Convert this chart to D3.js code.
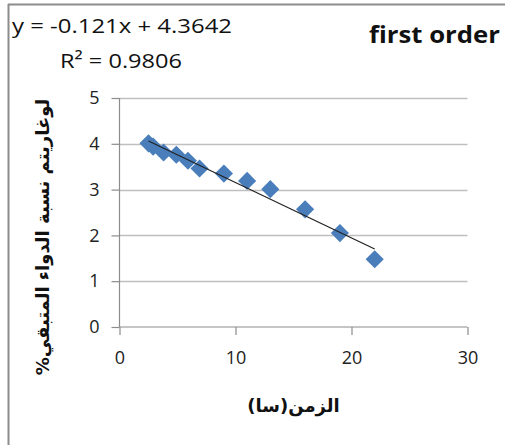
<!DOCTYPE html>
<html><head><meta charset="utf-8">
<script src="https://cdn.jsdelivr.net/npm/d3@7"></script>
<style>body{margin:0;background:#fff}</style>
</head><body>
<svg id="c" width="505" height="445"></svg>
<script>
const xValues = [2.5, 2.9, 3.8, 4.9, 5.9, 6.9, 9, 11, 13, 16, 19, 22];
const yValues = [4.01, 3.94, 3.81, 3.76, 3.63, 3.46, 3.35, 3.19, 3.01, 2.57, 2.05, 1.48];
const xTicks = [0, 10, 20, 30];
const yTicks = [0, 1, 2, 3, 4, 5];
const slope = -0.121, intercept = 4.3642;
const eqText = "y = -0.121x + 4.3642";
const r2Text = "R² = 0.9806";
const titleText = "first order";
const xTitle = "الزمن(سا)";
const yTitle = "لوغاريتم نسبة الدواء المتبقي%";

const svg = d3.select("#c");
const font = "'Open Sans', sans-serif";
svg.append("line").attr("x1",8.5).attr("x2",8.5).attr("y1",4).attr("y2",445).attr("stroke","#8c8c8c").attr("stroke-width",2);
svg.append("line").attr("x1",8).attr("x2",505).attr("y1",4.5).attr("y2",4.5).attr("stroke","#8c8c8c").attr("stroke-width",2);

const x = d3.scaleLinear().domain([0,30]).range([119.5,467.5]);
const y = d3.scaleLinear().domain([0,5]).range([327,98]);

const g = svg.append("g");
g.selectAll(".grid").data(yTicks.filter(d=>d>0)).join("line")
  .attr("x1",x(0)).attr("x2",x(30)).attr("y1",d=>Math.round(y(d))+0.5).attr("y2",d=>Math.round(y(d))+0.5)
  .attr("stroke","#bfbfbf").attr("stroke-width",1.3);

const ya = g.append("g").attr("transform",`translate(${x(0)},0)`)
  .call(d3.axisLeft(y).tickValues(yTicks).tickFormat(d3.format("d")).tickSize(8).tickPadding(12));
const xa = g.append("g").attr("transform",`translate(0,${y(0)})`)
  .call(d3.axisBottom(x).tickValues(xTicks).tickFormat(d3.format("d")).tickSize(8).tickPadding(16));
[ya,xa].forEach(a=>{
  a.selectAll("path,line").attr("stroke","#8c8c8c").attr("stroke-width",1.2);
  a.selectAll("text").attr("font-family",font).attr("font-size",18).attr("fill","#222");
});
ya.select(".domain").attr("d",`M0,${y(5)}V${y(0)}`);
xa.select(".domain").attr("d",`M${x(0)},0H${x(30)}`);

g.selectAll(".pt").data(xValues.map((v,i)=>[v,yValues[i]])).join("path")
  .attr("d",d3.symbol(d3.symbolSquare, 165))
  .attr("transform",d=>`translate(${x(d[0])},${y(d[1])}) rotate(45)`)
  .attr("fill","#4a7ebb");

const xs = d3.extent(xValues);
g.append("line").attr("x1",x(xs[0])).attr("x2",x(xs[1]))
  .attr("y1",y(slope*xs[0]+intercept)).attr("y2",y(slope*xs[1]+intercept))
  .attr("stroke","#222").attr("stroke-width",1.2);

svg.append("text").attr("x",12).attr("y",33).attr("font-family",font).attr("font-size",20).attr("fill","#111")
  .attr("textLength",220).attr("lengthAdjust","spacingAndGlyphs").text(eqText);
svg.append("text").attr("x",60).attr("y",68).attr("font-family",font).attr("font-size",20).attr("fill","#111")
  .attr("textLength",122).attr("lengthAdjust","spacingAndGlyphs").text(r2Text);
svg.append("text").attr("x",369).attr("y",43).attr("font-family",font).attr("font-weight","bold").attr("font-size",23).attr("fill","#111")
  .attr("textLength",131).attr("lengthAdjust","spacingAndGlyphs").text(titleText);

svg.append("text").attr("x",(x(0)+x(30))/2).attr("y",412).attr("text-anchor","middle").attr("direction","rtl")
  .attr("font-family","'DejaVu Sans', sans-serif").attr("font-weight","bold").attr("font-size",18).attr("fill","#111").text(xTitle);
svg.append("text").attr("transform",`translate(49,237) rotate(-90)`).attr("text-anchor","middle").attr("direction","rtl")
  .attr("font-family","'DejaVu Sans', sans-serif").attr("font-weight","bold").attr("font-size",18).attr("fill","#111").text(yTitle);
</script>
</body></html>
